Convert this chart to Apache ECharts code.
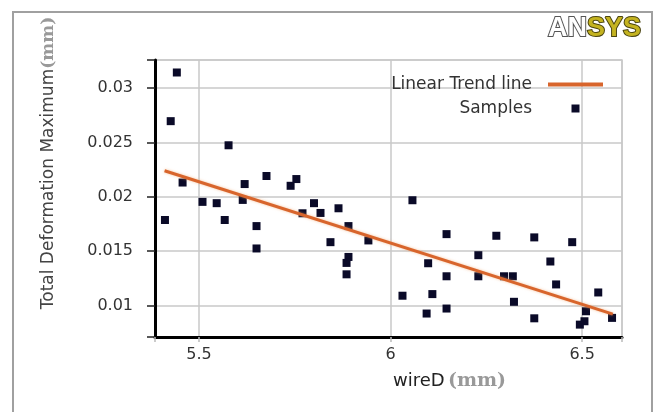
<!DOCTYPE html>
<html>
<head>
<meta charset="utf-8">
<script src="https://cdn.jsdelivr.net/npm/echarts@6/dist/echarts.min.js"></script>
<style>
html,body{margin:0;padding:0;background:#fff;}
#chart{width:657px;height:412px;}
</style>
</head>
<body>
<div id="chart"></div>
<script>
// Sample points: wireD (mm) vs Total Deformation Maximum (mm)
var sampleX = [5.442, 5.426, 5.577, 5.457, 5.676, 5.619, 5.754, 5.739, 5.509, 5.546,
  5.614, 5.411, 5.567, 5.650, 5.800, 5.817, 5.770, 5.864, 5.890, 5.650,
  5.843, 5.942, 5.890, 5.885, 5.885, 6.057, 6.146, 6.276, 6.375, 6.474,
  6.229, 6.098, 6.417, 6.146, 6.229, 6.296, 6.319, 6.432, 6.031, 6.109,
  6.542, 6.322, 6.094, 6.146, 6.375, 6.510, 6.506, 6.494, 6.578];
var sampleY = [0.03145, 0.02697, 0.02475, 0.02132, 0.02192, 0.02118, 0.02164, 0.02102, 0.01954, 0.01942,
  0.01972, 0.01787, 0.01787, 0.01731, 0.01942, 0.01852, 0.01849, 0.01895, 0.01731, 0.01525,
  0.01583, 0.01599, 0.01447, 0.01392, 0.01287, 0.01969, 0.01657, 0.01642, 0.01627, 0.01583,
  0.01463, 0.01389, 0.01405, 0.01269, 0.01269, 0.01269, 0.01269, 0.01194, 0.01090, 0.01105,
  0.01120, 0.01034, 0.00926, 0.00972, 0.00882, 0.00947, 0.00855, 0.00824, 0.00886];
// Linear trend line end points
var trendX = [5.41, 6.58];
var trendY = [0.0224, 0.0092];
// Tick labels
var xTicks = [5.5, 6, 6.5];
var yTicks = [0.01, 0.015, 0.02, 0.025, 0.03];
var seriesNames = ['Linear Trend line', 'Samples'];

function inList(list, v) {
  for (var i = 0; i < list.length; i++) { if (Math.abs(list[i] - v) < 1e-7) return true; }
  return false;
}
function fmt(list) {
  return function (v) { return inList(list, v) ? String(+v.toFixed(4)) : ''; };
}

var samples = sampleX.map(function (x, i) { return [x, sampleY[i]]; });
var trend = trendX.map(function (x, i) { return [x, trendY[i]]; });

var chart = echarts.init(document.getElementById('chart'), null, {renderer: 'canvas'});
chart.setOption({
  backgroundColor: '#ffffff',
  animation: false,
  grid: {left: 155, right: 35, top: 60, bottom: 75, show: true, borderColor: '#c8c8c8', borderWidth: 1.5, backgroundColor: 'transparent'},
  legend: {
    orient: 'vertical', right: 49, top: 71, align: 'right',
    itemWidth: 55, itemHeight: 8, itemGap: 7, symbolKeepAspect: true,
    textStyle: {fontFamily: 'DejaVu Sans', fontSize: 17, color: '#333', padding: [0, 11, 0, 0]},
    data: [
      {name: seriesNames[0], icon: 'path://M0,0L55,0L55,4L0,4Z'},
      {name: seriesNames[1], icon: 'path://M0,0L1,0L1,1L0,1Z'}
    ]
  },
  xAxis: {
    type: 'value', min: 5.385, max: 6.604, splitNumber: 3,
    name: '{a|wireD} {b|(mm)}', nameLocation: 'middle', nameGap: 35,
    nameTextStyle: {padding: [0, 0, 0, 122], rich: {
      a: {fontFamily: 'DejaVu Sans', fontSize: 18, color: '#222'},
      b: {fontFamily: 'DejaVu Serif', fontWeight: 'bold', fontSize: 19, color: '#999'}
    }},
    axisLine: {lineStyle: {color: '#000', width: 3}},
    axisTick: {show: true, length: 5, lineStyle: {color: '#bbb', width: 1.5}},
    axisLabel: {fontFamily: 'DejaVu Sans', fontSize: 16, color: '#333', margin: 10, formatter: fmt(xTicks)},
    splitLine: {show: true, lineStyle: {color: '#c8c8c8', width: 1.5}}
  },
  yAxis: {
    type: 'value', min: 0.0071, max: 0.0326, splitNumber: 5,
    name: '{a|Total Deformation Maximum}{b|(mm)}', nameLocation: 'middle', nameRotate: 90, nameGap: 98,
    nameTextStyle: {padding: [0, 0, 0, 71], rich: {
      a: {fontFamily: 'DejaVu Sans', fontSize: 17, color: '#444'},
      b: {fontFamily: 'DejaVu Serif', fontWeight: 'bold', fontSize: 17, color: '#999'}
    }},
    axisLine: {lineStyle: {color: '#000', width: 3}},
    axisTick: {show: true, length: 8, lineStyle: {color: '#222', width: 1.5}},
    axisLabel: {fontFamily: 'DejaVu Sans', fontSize: 16, color: '#333', margin: 22, formatter: fmt(yTicks)},
    splitLine: {show: true, lineStyle: {color: '#c8c8c8', width: 1.5}}
  },
  series: [
    {
      name: seriesNames[0], type: 'line', data: trend, symbol: 'none', z: 3,
      lineStyle: {color: '#d8652c', width: 3, shadowBlur: 3, shadowColor: 'rgba(240,160,100,0.6)'},
      itemStyle: {color: '#d8652c'}
    },
    {
      name: seriesNames[1], type: 'scatter', data: samples, symbol: 'rect', symbolSize: 8, z: 2,
      itemStyle: {color: '#0a0a28', opacity: 1}
    }
  ],
  graphic: [
    {type: 'polyline', silent: true, shape: {points: [[13, 412], [13, 12], [652, 12], [652, 412]]},
     style: {stroke: '#a0a0a0', lineWidth: 2, fill: null}},
    {type: 'text', silent: true, x: 641, y: 29,
     style: {text: '{a|AN}{b|SYS}', align: 'right', verticalAlign: 'middle',
       rich: {
         a: {fontFamily: 'Liberation Sans', fontWeight: 'bold', fontSize: 27, fill: '#ffffff', stroke: '#555', lineWidth: 2},
         b: {fontFamily: 'Liberation Sans', fontWeight: 'bold', fontSize: 27, fill: '#c4b320', stroke: '#4a4410', lineWidth: 2}
       }}}
  ]
});
</script>
</body>
</html>
